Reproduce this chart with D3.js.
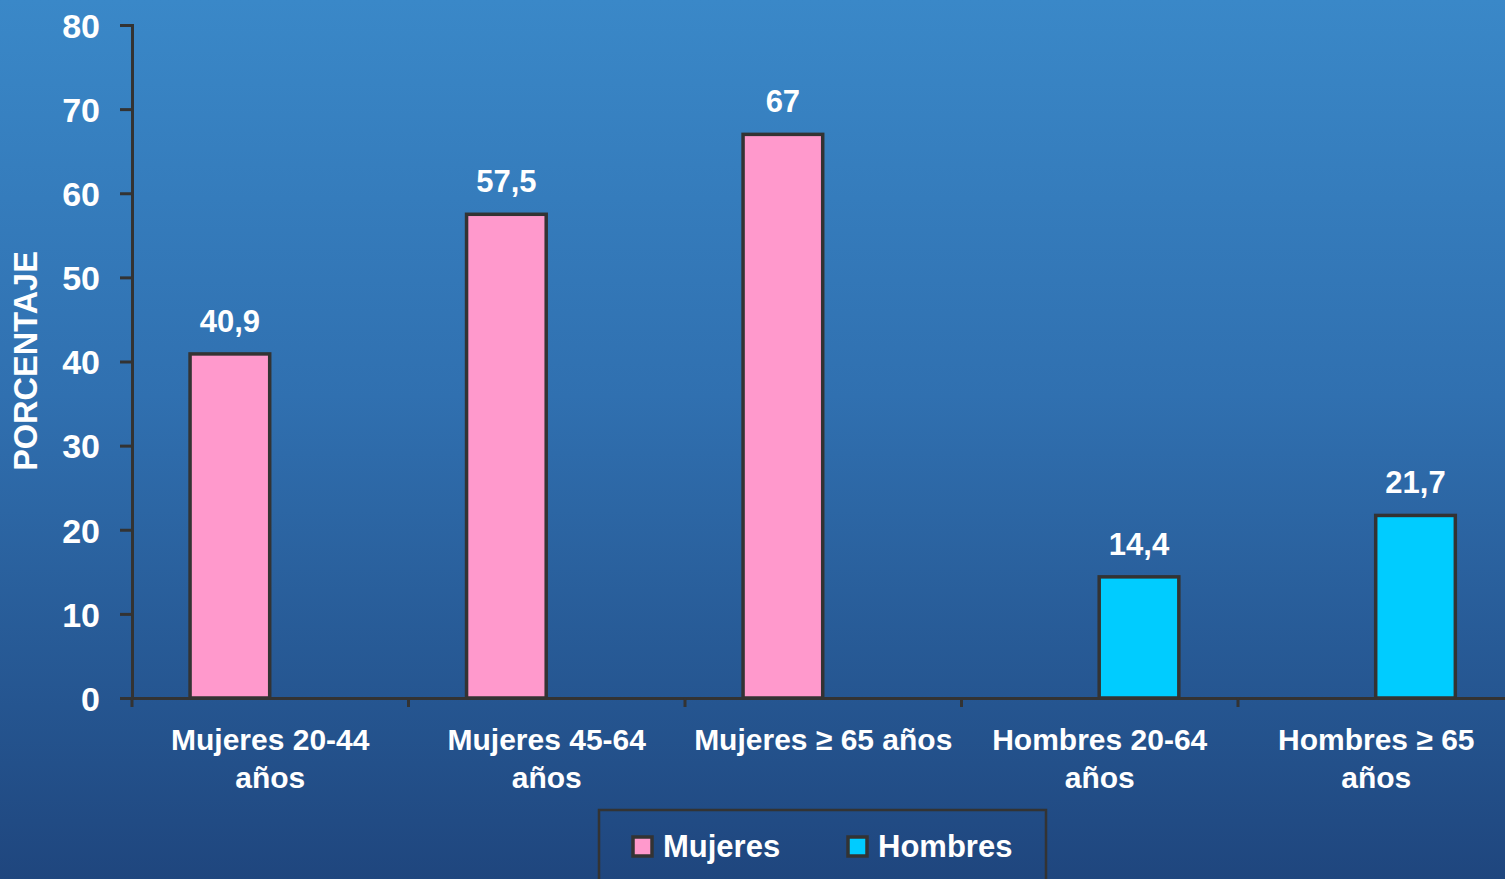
<!DOCTYPE html>
<html>
<head>
<meta charset="utf-8">
<script src="https://cdn.jsdelivr.net/npm/d3@7"></script>
<style>
  html, body { margin: 0; padding: 0; overflow: hidden; }
  svg { display: block; }
  text { font-family: "Liberation Sans", Arial, sans-serif; font-weight: bold; fill: #fff; }
</style>
</head>
<body>
<svg id="chart" width="1505" height="879"></svg>
<script>
// data
const categories = ["Mujeres 20-44 años", "Mujeres 45-64 años", "Mujeres ≥ 65 años", "Hombres 20-64 años", "Hombres ≥ 65 años"];
const categoryLines = [["Mujeres 20-44", "años"], ["Mujeres 45-64", "años"], ["Mujeres ≥ 65 años"], ["Hombres 20-64", "años"], ["Hombres ≥ 65", "años"]];
const seriesNames = ["Mujeres", "Hombres"];
const mujeres = [40.9, 57.5, 67, null, null];
const hombres = [null, null, null, 14.4, 21.7];
const yTicks = [0, 10, 20, 30, 40, 50, 60, 70, 80];
const colors = {Mujeres: "#ff99cc", Hombres: "#00ccff"};

const svg = d3.select("#chart");
const W = 1505, H = 879;

// background gradient
const defs = svg.append("defs");
const grad = defs.append("linearGradient").attr("id", "bg")
    .attr("x1", 0).attr("y1", 0).attr("x2", 0).attr("y2", 1);
grad.append("stop").attr("offset", "0%").attr("stop-color", "#3a88c8");
grad.append("stop").attr("offset", "45%").attr("stop-color", "#3070b0");
grad.append("stop").attr("offset", "100%").attr("stop-color", "#1f467e");
svg.append("rect").attr("width", W).attr("height", H).attr("fill", "url(#bg)");

const mLeft = 132, mBottom = 698, mTop = 25;
const bandW = 276.5;

const x0 = d3.scaleBand().domain(categories).range([mLeft, mLeft + bandW * categories.length]).padding(0);
const x1 = d3.scaleBand().domain(seriesNames).range([bandW * 0.21, bandW * 0.786]).padding(0);
const y = d3.scaleLinear().domain([0, 80]).range([mBottom, mTop]);

const fmt = v => String(v).replace(".", ",");

// bars
const rows = categories.map((c, i) => ({cat: c, Mujeres: mujeres[i], Hombres: hombres[i]}));
const groups = svg.append("g").selectAll("g").data(rows).join("g")
    .attr("transform", d => `translate(${x0(d.cat)},0)`);

const bars = groups.selectAll("g.bar")
    .data(d => seriesNames.filter(s => d[s] != null).map(s => ({key: s, value: d[s]})))
    .join("g").attr("class", "bar");

bars.append("rect")
    .attr("x", d => x1(d.key))
    .attr("y", d => y(d.value))
    .attr("width", x1.bandwidth())
    .attr("height", d => y(0) - y(d.value))
    .attr("fill", d => colors[d.key])
    .attr("stroke", "#333")
    .attr("stroke-width", 3.5);

bars.append("text")
    .attr("x", d => x1(d.key) + x1.bandwidth() / 2)
    .attr("y", d => y(d.value) - 22)
    .attr("text-anchor", "middle")
    .style("font-size", "31px")
    .text(d => fmt(d.value));

// y axis
const yAxis = svg.append("g")
    .attr("transform", `translate(${mLeft},0)`)
    .call(d3.axisLeft(y).tickValues(yTicks).tickSize(12).tickSizeOuter(12).tickPadding(20));
yAxis.select(".domain").attr("stroke", "#333").attr("stroke-width", 3);
yAxis.selectAll(".tick line").attr("stroke", "#333").attr("stroke-width", 3);
yAxis.selectAll(".tick text")
    .attr("fill", "#fff")
    .style("font-size", "34px")
    .style("font-family", "'Liberation Sans', Arial, sans-serif")
    .style("font-weight", "bold")
    .attr("dy", "0.36em");

// x axis line and boundary ticks
const xAxis = svg.append("g")
    .attr("transform", `translate(0,${mBottom})`)
    .call(d3.axisBottom(x0).tickSize(0).tickSizeOuter(0).tickFormat(""));
xAxis.select(".domain").attr("stroke", "#333").attr("stroke-width", 3);
const bounds = categories.map(c => x0(c)).concat([x0.range()[1]]);
svg.append("g").selectAll("line").data(bounds).join("line")
    .attr("x1", d => d).attr("x2", d => d)
    .attr("y1", mBottom).attr("y2", mBottom + 9)
    .attr("stroke", "#333").attr("stroke-width", 3);

// category labels
const catLabels = svg.append("g").selectAll("text").data(categories).join("text")
    .attr("text-anchor", "middle")
    .attr("x", d => x0(d) + x0.bandwidth() / 2)
    .attr("y", 750)
    .style("font-size", "30px");
catLabels.each(function(d, i) {
  d3.select(this).selectAll("tspan").data(categoryLines[i]).join("tspan")
    .attr("x", x0(d) + x0.bandwidth() / 2)
    .attr("dy", (l, j) => j === 0 ? 0 : 38)
    .text(l => l);
});

// y title
svg.append("text")
    .attr("transform", "translate(37,361) rotate(-90)")
    .attr("text-anchor", "middle")
    .style("font-size", "32.5px")
    .text("PORCENTAJE");

// legend
const legend = svg.append("g");
legend.append("rect")
    .attr("x", 599).attr("y", 810).attr("width", 447).attr("height", 90)
    .attr("fill", "none").attr("stroke", "#333").attr("stroke-width", 2.5);
const legX = [633, 848];
const items = legend.selectAll("g").data(seriesNames).join("g")
    .attr("transform", (d, i) => `translate(${legX[i]},837)`);
items.append("rect")
    .attr("width", 19).attr("height", 19)
    .attr("fill", d => colors[d])
    .attr("stroke", "#333").attr("stroke-width", 3.5);
items.append("text")
    .attr("x", 30).attr("y", 20)
    .style("font-size", "31px")
    .text(d => d);
</script>
</body>
</html>
